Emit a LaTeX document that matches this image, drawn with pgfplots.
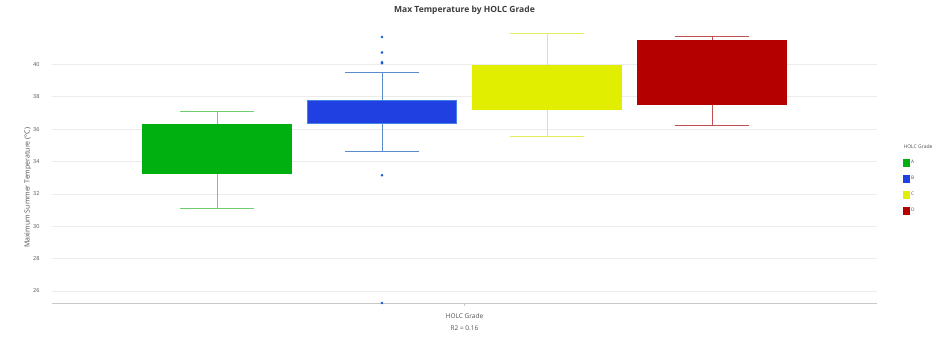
\documentclass[border=0pt]{standalone}
\usepackage{fontspec}
\setmainfont{Open Sans}
\usepackage{pgfplots}
\pgfplotsset{compat=1.18}
\definecolor{Afill}{RGB}{0,176,16}
\definecolor{Awh}{RGB}{110,205,110}
\definecolor{Bfill}{RGB}{33,64,226}
\definecolor{Bedge}{RGB}{70,130,230}
\definecolor{Bwh}{RGB}{90,140,205}
\definecolor{Cfill}{RGB}{226,238,0}
\definecolor{Cwh}{RGB}{228,236,90}
\definecolor{Dfill}{RGB}{181,0,0}
\definecolor{Dwh}{RGB}{195,80,80}
\definecolor{Bpt}{RGB}{20,90,210}
\definecolor{gridc}{RGB}{236,236,236}
\definecolor{txt}{RGB}{80,80,80}
\begin{document}
\begin{tikzpicture}
\useasboundingbox (0,0) rectangle (944pt,344pt);
\begin{axis}[
  at={(52pt,41pt)}, anchor=south west,
  scale only axis, width=825pt, height=276pt,
  xmin=-1, xmax=4, ymin=25.26, ymax=42.3,
  clip=false,
  axis x line*=bottom, axis y line*=left,
  x axis line style={draw={rgb,255:red,200;green,200;blue,200}, line width=0.8pt},
  y axis line style={draw=none},
  xtick={1.5}, xticklabels={HOLC Grade},
  xtick style={draw={rgb,255:red,200;green,200;blue,200}},
  major tick length=3pt, tick align=outside,
  ytick={26,28,...,40},
  ytick style={draw=none},
  ymajorgrids, grid style={gridc, line width=0.6pt},
  /pgf/number format/assume math mode=true,
  yticklabel style={font=\fontsize{5.5}{6}\selectfont, text=txt, xshift=-6pt},
  xticklabel style={font=\fontsize{6.5}{8}\selectfont, text=txt, yshift=-4pt},
  xlabel={R2 = 0.16},
  xlabel style={font=\fontsize{6.5}{8}\selectfont, text=txt, yshift=0pt},
  ylabel={Maximum Summer Temperature (°C)},
  ylabel style={font=\fontsize{7}{8}\selectfont, text=txt, at={(ticklabel cs:0.417)}, yshift=-5pt},
  title={Max Temperature by HOLC Grade},
  title style={font=\bfseries\fontsize{8.5}{10}\selectfont, text={rgb,255:red,60;green,60;blue,60}, at={(0.5,1)}, anchor=center, yshift=11pt},
  legend style={at={(1.031,0.525)}, anchor=north west, draw=none, fill=none,
    font=\fontsize{4.8}{6}\selectfont, text=txt, row sep=7pt, inner sep=0pt},
  legend cell align=left,
]
\addlegendimage{only marks, mark=square*, mark size=3.2pt, draw=Afill, fill=Afill}
\addlegendentry{A}
\addlegendimage{only marks, mark=square*, mark size=3.2pt, draw=Bfill, fill=Bfill}
\addlegendentry{B}
\addlegendimage{only marks, mark=square*, mark size=3.2pt, draw=Cfill, fill=Cfill}
\addlegendentry{C}
\addlegendimage{only marks, mark=square*, mark size=3.2pt, draw=Dfill, fill=Dfill}
\addlegendentry{D}
% ---- A (x=0)
\addplot[forget plot, draw=Awh, line width=0.9pt] coordinates {(0,31.07) (0,33.26)};
\addplot[forget plot, draw=Awh, line width=0.9pt] coordinates {(0,36.3) (0,37.07)};
\addplot[forget plot, draw=Awh, line width=0.9pt] coordinates {(-0.225,31.07) (0.225,31.07)};
\addplot[forget plot, draw=Awh, line width=0.9pt] coordinates {(-0.225,37.07) (0.225,37.07)};
\addplot[forget plot, draw=Afill, fill=Afill] coordinates {(-0.4515,33.26) (0.4515,33.26) (0.4515,36.3) (-0.4515,36.3)} -- cycle;
% ---- B (x=1)
\addplot[forget plot, draw=Bwh, line width=0.9pt] coordinates {(1,34.6) (1,36.35)};
\addplot[forget plot, draw=Bwh, line width=0.9pt] coordinates {(1,37.8) (1,39.49)};
\addplot[forget plot, draw=Bwh, line width=0.9pt] coordinates {(0.775,34.6) (1.225,34.6)};
\addplot[forget plot, draw=Bwh, line width=0.9pt] coordinates {(0.775,39.49) (1.225,39.49)};
\addplot[forget plot, draw=Bedge, line width=0.6pt, fill=Bfill] coordinates {(0.5485,36.35) (1.4515,36.35) (1.4515,37.8) (0.5485,37.8)} -- cycle;
% ---- C (x=2)
\addplot[forget plot, draw=Cwh, line width=0.9pt] coordinates {(2,35.57) (2,37.25)};
\addplot[forget plot, draw=Cwh, line width=0.9pt] coordinates {(2,39.92) (2,41.93)};
\addplot[forget plot, draw=Cwh, line width=0.9pt] coordinates {(1.775,35.57) (2.225,35.57)};
\addplot[forget plot, draw=Cwh, line width=0.9pt] coordinates {(1.775,41.93) (2.225,41.93)};
\addplot[forget plot, draw=Cfill, fill=Cfill] coordinates {(1.5485,37.25) (2.4515,37.25) (2.4515,39.92) (1.5485,39.92)} -- cycle;
% ---- D (x=3)
\addplot[forget plot, draw=Dwh, line width=0.9pt] coordinates {(3,36.25) (3,37.55)};
\addplot[forget plot, draw=Dwh, line width=0.9pt] coordinates {(3,41.46) (3,41.73)};
\addplot[forget plot, draw=Dwh, line width=0.9pt] coordinates {(2.775,36.25) (3.225,36.25)};
\addplot[forget plot, draw=Dwh, line width=0.9pt] coordinates {(2.775,41.73) (3.225,41.73)};
\addplot[forget plot, draw=Dfill, fill=Dfill] coordinates {(2.5485,37.55) (3.4515,37.55) (3.4515,41.46) (2.5485,41.46)} -- cycle;
% outliers B
\addplot[forget plot, only marks, mark=*, mark size=1.1pt, draw=Bpt, fill=Bpt]
  coordinates {(1,41.68) (1,40.72) (1,40.12) (1,40.06) (1,33.15) (1,25.26)};
\node[anchor=west, font=\fontsize{5}{6}\selectfont, text=txt] at (rel axis cs:1.028,0.565) {HOLC Grade};
\end{axis}
\end{tikzpicture}
\end{document}
